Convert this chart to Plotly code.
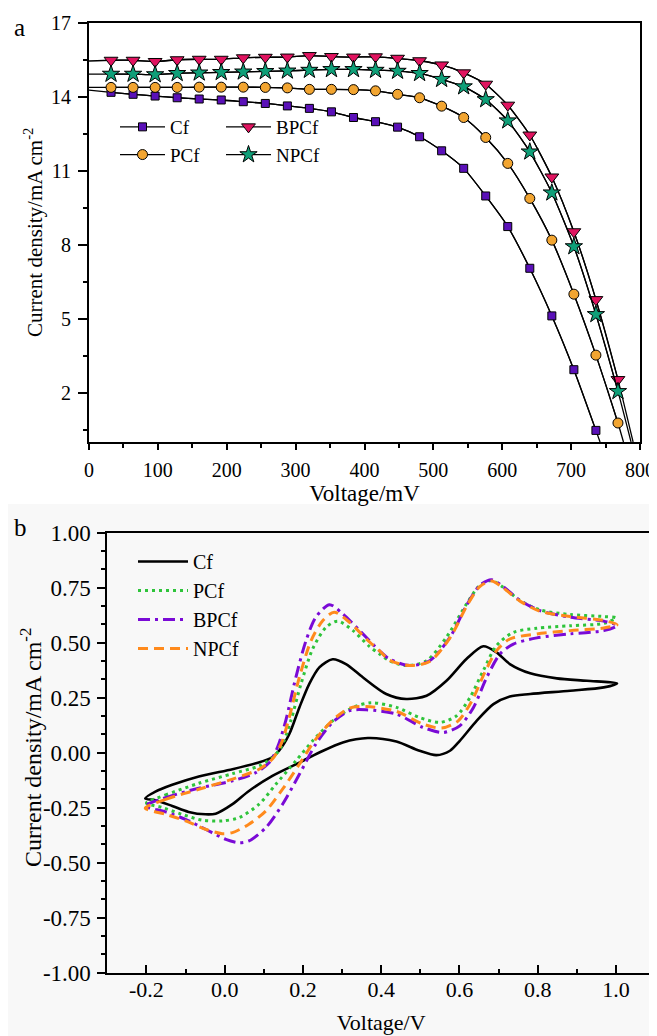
import plotly.graph_objects as go

SERIF = "Liberation Serif, Times New Roman, serif"

# ---------- panel a : J-V curves ----------
# marker positions (mV)
jv_v = [32, 64, 96, 128, 160, 192, 224, 256, 288, 320, 352, 384, 416, 448,
        480, 512, 544, 576, 608, 640, 672, 704, 736, 768]

cf_j = [14.17, 14.09, 14.02, 13.95, 13.90, 13.86, 13.79, 13.72, 13.62, 13.52, 13.38, 13.15,
        12.98, 12.76, 12.37, 11.80, 11.09, 9.97, 8.73, 7.04, 5.11, 2.93, 0.47]
pcf_j = [14.37, 14.37, 14.37, 14.37, 14.38, 14.38, 14.38, 14.37, 14.35, 14.29, 14.29, 14.28,
         14.23, 14.09, 13.95, 13.61, 13.15, 12.34, 11.29, 9.87, 8.18, 5.99, 3.52, 0.77]
bpcf_j = [15.47, 15.47, 15.42, 15.49, 15.51, 15.51, 15.57, 15.59, 15.60, 15.66, 15.62, 15.60,
          15.61, 15.55, 15.45, 15.28, 14.96, 14.50, 13.65, 12.44, 10.74, 8.52, 5.77, 2.53]
npcf_j = [14.91, 14.91, 14.89, 14.94, 14.96, 14.98, 15.00, 15.02, 15.04, 15.07, 15.10, 15.10,
          15.07, 15.03, 14.94, 14.70, 14.40, 13.88, 13.02, 11.76, 10.10, 7.92, 5.17, 2.05]

# short-circuit current (at 0 mV) and open-circuit voltage (mV)
jsc = {"Cf": 14.26, "PCf": 14.37, "BPCf": 15.44, "NPCf": 14.91}
voc = {"Cf": 742, "PCf": 776, "BPCf": 790, "NPCf": 787}

# ---------- panel b : CV curves ----------
cf_cv_v = [-0.203, -0.177, -0.134, -0.066, 0.020, 0.080, 0.118, 0.139, 0.165, 0.191, 0.216, 0.242,
           0.276, 0.310, 0.353, 0.413, 0.464, 0.516, 0.567, 0.618, 0.661, 0.695, 0.729, 0.781,
           0.849, 0.926, 1.003,
           0.969, 0.883, 0.781, 0.729, 0.687, 0.644, 0.601, 0.576, 0.541, 0.498, 0.439, 0.366,
           0.302, 0.242, 0.191, 0.122, 0.062, 0.020, -0.023, -0.049, -0.092, -0.134, -0.177, -0.203]
cf_cv_j = [-0.209, -0.178, -0.147, -0.109, -0.076, -0.049, -0.026, 0.008, 0.083, 0.205, 0.311, 0.387,
           0.424, 0.402, 0.342, 0.266, 0.243, 0.258, 0.326, 0.425, 0.483, 0.455, 0.402, 0.360,
           0.337, 0.326, 0.314,
           0.296, 0.281, 0.266, 0.255, 0.220, 0.144, 0.053, 0.008, -0.012, 0.008, 0.050, 0.066,
           0.046, 0.000, -0.046, -0.106, -0.175, -0.235, -0.278, -0.281, -0.270, -0.243, -0.217, -0.209]

pcf_cv_v = [-0.200, -0.151, -0.066, 0.020, 0.088, 0.122, 0.144, 0.169, 0.195, 0.225, 0.259, 0.289,
            0.328, 0.370, 0.396, 0.421, 0.464, 0.516, 0.567, 0.618, 0.652, 0.682, 0.712, 0.755,
            0.806, 0.883, 0.969, 1.000,
            0.969, 0.883, 0.798, 0.738, 0.695, 0.661, 0.627, 0.593, 0.550, 0.498, 0.439, 0.375,
            0.328, 0.276, 0.225, 0.182, 0.131, 0.088, 0.037, -0.006, -0.057, -0.109, -0.160, -0.200]
pcf_cv_j = [-0.230, -0.193, -0.140, -0.096, -0.061, -0.023, 0.023, 0.144, 0.311, 0.471, 0.569, 0.597,
            0.554, 0.482, 0.448, 0.417, 0.395, 0.417, 0.524, 0.675, 0.759, 0.782, 0.751, 0.691,
            0.648, 0.627, 0.618, 0.612,
            0.587, 0.576, 0.565, 0.546, 0.486, 0.372, 0.250, 0.167, 0.137, 0.159, 0.205, 0.226,
            0.205, 0.144, 0.053, -0.038, -0.144, -0.235, -0.296, -0.311, -0.308, -0.281, -0.250, -0.230]

bpcf_cv_v = [-0.203, -0.151, -0.066, 0.020, 0.080, 0.114, 0.135, 0.156, 0.182, 0.208, 0.233, 0.268,
             0.302, 0.345, 0.396, 0.421, 0.473, 0.524, 0.576, 0.618, 0.652, 0.682, 0.712, 0.755,
             0.806, 0.883, 0.969, 1.003,
             0.969, 0.883, 0.798, 0.738, 0.704, 0.670, 0.636, 0.601, 0.559, 0.507, 0.439, 0.362,
             0.319, 0.276, 0.233, 0.191, 0.148, 0.105, 0.062, 0.037, 0.003, -0.049, -0.100, -0.151, -0.203]
bpcf_cv_j = [-0.243, -0.205, -0.162, -0.129, -0.091, -0.046, 0.023, 0.144, 0.342, 0.509, 0.615, 0.672,
             0.630, 0.554, 0.462, 0.425, 0.395, 0.417, 0.524, 0.668, 0.759, 0.785, 0.754, 0.691,
             0.645, 0.615, 0.597, 0.577,
             0.554, 0.539, 0.521, 0.493, 0.448, 0.342, 0.205, 0.121, 0.091, 0.114, 0.175, 0.194,
             0.190, 0.137, 0.038, -0.099, -0.235, -0.342, -0.402, -0.410, -0.395, -0.349, -0.304, -0.270, -0.243]

npcf_cv_v = [-0.203, -0.151, -0.066, 0.020, 0.088, 0.122, 0.144, 0.165, 0.191, 0.221, 0.251, 0.280,
             0.319, 0.362, 0.396, 0.421, 0.473, 0.524, 0.576, 0.618, 0.652, 0.682, 0.712, 0.755,
             0.806, 0.883, 0.969, 1.003,
             0.969, 0.883, 0.798, 0.729, 0.695, 0.665, 0.632, 0.597, 0.555, 0.507, 0.439, 0.362,
             0.319, 0.276, 0.233, 0.191, 0.148, 0.105, 0.062, 0.020, -0.006, -0.049, -0.100, -0.151, -0.203]
npcf_cv_j = [-0.253, -0.213, -0.167, -0.121, -0.076, -0.030, 0.038, 0.159, 0.342, 0.509, 0.600, 0.638,
             0.592, 0.516, 0.462, 0.420, 0.395, 0.414, 0.521, 0.663, 0.754, 0.779, 0.748, 0.688,
             0.642, 0.618, 0.600, 0.581,
             0.566, 0.554, 0.539, 0.516, 0.463, 0.364, 0.235, 0.144, 0.111, 0.129, 0.187, 0.209,
             0.202, 0.147, 0.061, -0.053, -0.167, -0.266, -0.326, -0.364, -0.369, -0.349, -0.311, -0.281, -0.253]

# tick labels
cv_xticks = [-0.2, 0.0, 0.2, 0.4, 0.6, 0.8, 1.0]
cv_xtext = ["-0.2", "0.0", "0.2", "0.4", "0.6", "0.8", "1.0"]
cv_yticks = [-1.0, -0.75, -0.5, -0.25, 0.0, 0.25, 0.5, 0.75, 1.0]
cv_ytext = ["-1.00", "-0.75", "-0.50", "-0.25", "0.00", "0.25", "0.50", "0.75", "1.00"]

W, H = 657, 1036
OFF = 8  # page body margin


def px(xs):
    # screen x pixel -> paper fraction
    return (xs - OFF) / W


def py(ys):
    # screen y pixel -> paper fraction
    return 1 - (ys - OFF) / H


fig = go.Figure()

# J-V series: name, values, marker symbol, colour, size, legend
jv_series = [
    ("Cf", cf_j, "square", "#5a10b8", 8, "legend"),
    ("BPCf", bpcf_j, "triangle-down", "#e0135f", 12, "legend2"),
    ("PCf", pcf_j, "circle", "#f2a531", 10, "legend"),
    ("NPCf", npcf_j, "star", "#0f9f78", 13, "legend2"),
]
for name, vals, sym, col, size, leg in jv_series:
    xs = jv_v[:len(vals)]
    # full line: from 0 mV through the points down to Voc
    fig.add_trace(go.Scatter(
        x=[0] + xs + [voc[name]], y=[jsc[name]] + vals + [0],
        mode="lines", line=dict(color="black", width=1.3, shape="spline", smoothing=0.6),
        showlegend=False, xaxis="x", yaxis="y", hoverinfo="skip"))
    fig.add_trace(go.Scatter(
        x=xs, y=vals, mode="lines+markers", name=name, legend=leg,
        line=dict(color="black", width=1.3, shape="spline", smoothing=0.6),
        marker=dict(symbol=sym, size=size, color=col, line=dict(color="black", width=1)),
        xaxis="x", yaxis="y"))

cv_series = [
    ("Cf", cf_cv_v, cf_cv_j, "black", "solid", 2.6),
    ("PCf", pcf_cv_v, pcf_cv_j, "#2ec43a", "3px,4px", 3),
    ("BPCf", bpcf_cv_v, bpcf_cv_j, "#7a0ad6", "12px,5px,3px,5px", 3),
    ("NPCf", npcf_cv_v, npcf_cv_j, "#ff8a1c", "10px,6px", 3),
]
for name, vv, jj, col, dash, w in cv_series:
    fig.add_trace(go.Scatter(
        x=vv, y=jj, mode="lines", name=name, legend="legend3",
        line=dict(color=col, dash=dash, width=w, shape="spline", smoothing=0.8),
        xaxis="x2", yaxis="y2"))

axis_common = dict(showline=True, linecolor="black", linewidth=1.8, mirror=True,
                   showgrid=False, zeroline=False, tickcolor="black", tickwidth=1.6,
                   color="black", automargin=False)

fig.update_layout(
    width=W, height=H,
    margin=dict(l=0, r=0, t=0, b=0, autoexpand=False),
    paper_bgcolor="white", plot_bgcolor="rgba(0,0,0,0)",
    font=dict(family=SERIF, color="black"),
    xaxis=dict(axis_common, domain=[px(89), px(640)], anchor="y", range=[0, 800],
               dtick=100, ticks="outside", ticklen=6, ticklabelstandoff=3,
               minor=dict(dtick=50, ticks="outside", ticklen=4, tickcolor="black"),
               tickfont=dict(size=20),
               title=dict(text="Voltage/mV", font=dict(size=23), standoff=3)),
    yaxis=dict(axis_common, domain=[py(442), py(22.5)], anchor="x", range=[0, 17],
               tick0=2, dtick=3, ticks="outside", ticklen=9, ticklabelstandoff=3,
               minor=dict(tick0=0.5, dtick=1.5, ticks="outside", ticklen=4, tickcolor="black"),
               tickfont=dict(size=20),
               title=dict(text="Current density/mA cm<sup>-2</sup>", font=dict(size=21), standoff=3)),
    xaxis2=dict(axis_common, domain=[px(107.3), px(655)], anchor="y2", range=[-0.3, 1.1],
                tickmode="array", tickvals=cv_xticks, ticktext=cv_xtext,
                ticks="inside", ticklen=8, ticklabelstandoff=-4,
                minor=dict(tickmode="linear", tick0=0, dtick=0.1, ticks="inside", ticklen=4, tickcolor="black"),
                tickfont=dict(size=22),
                title=dict(text="Voltage/V", font=dict(size=22), standoff=14)),
    yaxis2=dict(axis_common, domain=[py(972.5), py(532.5)], anchor="x2", range=[-1, 1],
                tickmode="array", tickvals=cv_yticks, ticktext=cv_ytext,
                ticks="outside", ticklen=8, ticklabelstandoff=2,
                minor=dict(tickmode="linear", tick0=0, dtick=0.25 / 3, ticks="outside", ticklen=4, tickcolor="black"),
                tickfont=dict(size=23)),
    legend=dict(x=px(115), y=py(108), xanchor="left", yanchor="top",
                bgcolor="rgba(0,0,0,0)", font=dict(size=19), itemwidth=45, tracegroupgap=0),
    legend2=dict(x=px(221), y=py(108), xanchor="left", yanchor="top",
                 bgcolor="rgba(0,0,0,0)", font=dict(size=19), itemwidth=45, tracegroupgap=0),
    legend3=dict(x=px(133), y=py(542), xanchor="left", yanchor="top",
                 bgcolor="rgba(0,0,0,0)", font=dict(size=20), itemwidth=50, tracegroupgap=0),
    shapes=[dict(type="rect", xref="paper", yref="paper", x0=0, x1=1, y0=0, y1=py(504),
                 fillcolor="#f8f8f8", line=dict(width=0), layer="below")],
    annotations=[
        dict(text="a", x=px(19), y=py(28), xref="paper", yref="paper", xanchor="center",
             yanchor="middle", showarrow=False, font=dict(size=25)),
        dict(text="b", x=px(20), y=py(527), xref="paper", yref="paper", xanchor="center",
             yanchor="middle", showarrow=False, font=dict(size=25)),
        # y title of panel b
        dict(text="Current density/mA cm<sup>-2</sup>", x=px(31), y=py(748), xref="paper",
             yref="paper", xanchor="center", yanchor="middle", textangle=-90,
             showarrow=False, font=dict(size=24)),
    ],
)

fig.write_html("out.html")
